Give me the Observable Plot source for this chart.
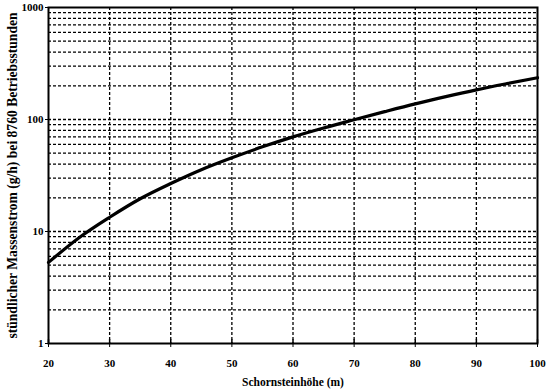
<!DOCTYPE html>
<html>
<head>
<meta charset="utf-8">
<script src="https://cdn.jsdelivr.net/npm/d3@7"></script>
<script src="https://cdn.jsdelivr.net/npm/@observablehq/plot@0.6"></script>
<style>
  html, body { margin: 0; padding: 0; background: #fff; }
</style>
</head>
<body>
<div id="chart"></div>
<script>
// Data
const heights = [20, 25, 30, 35, 40, 45, 50, 55, 60, 65, 70, 75, 80, 85, 90, 95, 100];
const massFlow = [5.3, 8.8, 13.4, 19.6, 26.8, 35.6, 45.5, 57, 70, 84, 99.5, 117.5, 138, 160, 184, 209, 236];
const xTicks = [20, 30, 40, 50, 60, 70, 80, 90, 100];
const yTicks = [1, 10, 100, 1000];
const yGrid = [2,3,4,5,6,7,8,9,10,20,30,40,50,60,70,80,90,100,200,300,400,500,600,700,800,900];
const xGrid = [30, 40, 50, 60, 70, 80, 90];
const xLabel = "Schornsteinhöhe (m)";
const yLabel = "stündlicher Massenstrom (g/h) bei 8760 Betriebsstunden";

const data = heights.map((h, i) => ({h, m: massFlow[i]}));

const chart = Plot.plot({
  width: 547,
  height: 391,
  marginLeft: 48,
  marginRight: 10,
  marginTop: 7,
  marginBottom: 48,
  style: {fontFamily: "'Liberation Serif', 'Times New Roman', serif", fontWeight: "bold", fontSize: "11px", color: "#000", background: "#fff"},
  x: {domain: [20, 100]},
  y: {type: "log", domain: [1, 1000]},
  marks: [
    Plot.ruleY(yGrid, {stroke: "#000", strokeWidth: 1.3, strokeDasharray: "3,2"}),
    Plot.ruleX(xGrid, {stroke: "#000", strokeWidth: 1.3, strokeDasharray: "3,2"}),
    Plot.line(data, {x: "h", y: "m", stroke: "#000", strokeWidth: 3.2, curve: "monotone-x"}),
    Plot.frame({stroke: "#000", strokeWidth: 2}),
    Plot.ruleX(xTicks, {y1: 1, y2: 1.08, stroke: "#000", strokeWidth: 1.5}),
    Plot.axisX({ticks: xTicks, tickSize: 4, tickPadding: 12, fontSize: 11, fontWeight: "bold", label: null}),
    Plot.axisX({ticks: [], tickSize: 0, fontSize: 11.5, fontWeight: "bold", label: xLabel, labelAnchor: "center", labelArrow: "none", labelOffset: 42}),
    Plot.axisY({ticks: yTicks, tickSize: 3, tickPadding: 2, tickFormat: d => String(d), fontSize: 11, fontWeight: "bold", label: null}),
    Plot.axisY({ticks: [], tickSize: 0, fontSize: 13.6, fontWeight: "bold", label: yLabel, labelAnchor: "center", labelArrow: "none", labelOffset: 41})
  ]
});
document.getElementById("chart").appendChild(chart);
</script>
</body>
</html>
